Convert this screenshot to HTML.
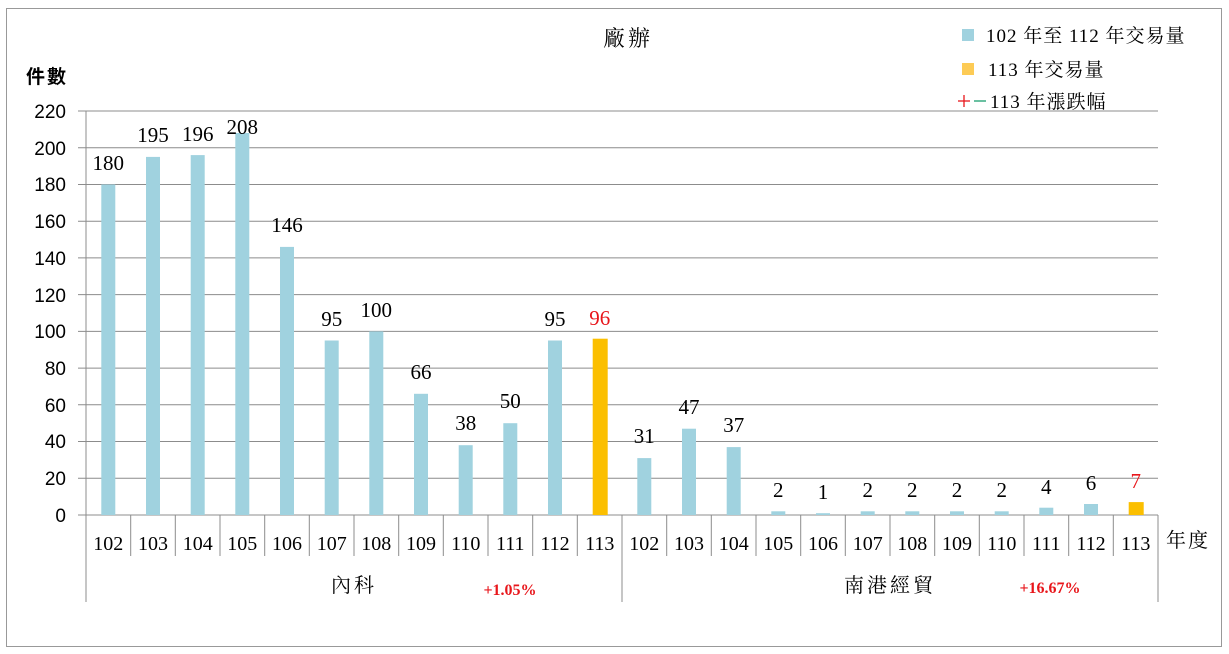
<!DOCTYPE html>
<html><head><meta charset="utf-8"><style>
body{margin:0;background:#fff}
svg{display:block}
.s{font-family:"Liberation Serif","Noto Serif CJK SC",serif}
.a{font-family:"Liberation Sans","Noto Sans CJK TC",sans-serif}
</style></head><body>
<svg width="1229" height="654" viewBox="0 0 1229 654" xmlns="http://www.w3.org/2000/svg">
<rect x="6.5" y="8.5" width="1215" height="638" fill="#fff" stroke="#999"/>
<g stroke="#8c8c8c" stroke-width="1">
<line x1="78" y1="111" x2="1158" y2="111"/>
<line x1="78" y1="147.7" x2="1158" y2="147.7"/>
<line x1="78" y1="184.5" x2="1158" y2="184.5"/>
<line x1="78" y1="221.2" x2="1158" y2="221.2"/>
<line x1="78" y1="257.9" x2="1158" y2="257.9"/>
<line x1="78" y1="294.6" x2="1158" y2="294.6"/>
<line x1="78" y1="331.4" x2="1158" y2="331.4"/>
<line x1="78" y1="368.1" x2="1158" y2="368.1"/>
<line x1="78" y1="404.8" x2="1158" y2="404.8"/>
<line x1="78" y1="441.5" x2="1158" y2="441.5"/>
<line x1="78" y1="478.3" x2="1158" y2="478.3"/>
<line x1="78" y1="515" x2="1158" y2="515"/>
<line x1="86" y1="111" x2="86" y2="602"/>
<line x1="622" y1="515" x2="622" y2="602"/>
<line x1="1158" y1="515" x2="1158" y2="602"/>
<line x1="130.7" y1="515" x2="130.7" y2="556"/><line x1="175.3" y1="515" x2="175.3" y2="556"/><line x1="220" y1="515" x2="220" y2="556"/><line x1="264.7" y1="515" x2="264.7" y2="556"/><line x1="309.3" y1="515" x2="309.3" y2="556"/><line x1="354" y1="515" x2="354" y2="556"/><line x1="398.7" y1="515" x2="398.7" y2="556"/><line x1="443.3" y1="515" x2="443.3" y2="556"/><line x1="488" y1="515" x2="488" y2="556"/><line x1="532.7" y1="515" x2="532.7" y2="556"/><line x1="577.3" y1="515" x2="577.3" y2="556"/>
<line x1="666.7" y1="515" x2="666.7" y2="556"/><line x1="711.3" y1="515" x2="711.3" y2="556"/><line x1="756" y1="515" x2="756" y2="556"/><line x1="800.7" y1="515" x2="800.7" y2="556"/><line x1="845.3" y1="515" x2="845.3" y2="556"/><line x1="890" y1="515" x2="890" y2="556"/><line x1="934.7" y1="515" x2="934.7" y2="556"/><line x1="979.3" y1="515" x2="979.3" y2="556"/><line x1="1024" y1="515" x2="1024" y2="556"/><line x1="1068.7" y1="515" x2="1068.7" y2="556"/><line x1="1113.3" y1="515" x2="1113.3" y2="556"/>
</g>
<g fill="#a0d2df">
<rect x="101.3" y="184.5" width="14" height="330.5"/>
<rect x="146" y="156.9" width="14" height="358.1"/>
<rect x="190.7" y="155.1" width="14" height="359.9"/>
<rect x="235.3" y="133" width="14" height="382"/>
<rect x="280" y="246.9" width="14" height="268.1"/>
<rect x="324.7" y="340.5" width="14" height="174.5"/>
<rect x="369.3" y="331.4" width="14" height="183.6"/>
<rect x="414" y="393.8" width="14" height="121.2"/>
<rect x="458.7" y="445.2" width="14" height="69.8"/>
<rect x="503.3" y="423.2" width="14" height="91.8"/>
<rect x="548" y="340.5" width="14" height="174.5"/>
<rect x="637.3" y="458.1" width="14" height="56.9"/>
<rect x="682" y="428.7" width="14" height="86.3"/>
<rect x="726.7" y="447.1" width="14" height="67.9"/>
<rect x="771.3" y="511.3" width="14" height="3.7"/>
<rect x="816" y="513.2" width="14" height="1.8"/>
<rect x="860.7" y="511.3" width="14" height="3.7"/>
<rect x="905.3" y="511.3" width="14" height="3.7"/>
<rect x="950" y="511.3" width="14" height="3.7"/>
<rect x="994.7" y="511.3" width="14" height="3.7"/>
<rect x="1039.3" y="507.7" width="14" height="7.3"/>
<rect x="1084" y="504" width="14" height="11"/>
</g>
<g fill="#fbbf00">
<rect x="592.7" y="338.7" width="15" height="176.3"/>
<rect x="1128.7" y="502.1" width="15" height="12.9"/>
</g>
<g class="s" font-size="21" text-anchor="middle" fill="#000">
<text x="108.3" y="170">180</text><text x="153" y="142">195</text><text x="197.7" y="141">196</text><text x="242.3" y="134">208</text><text x="287" y="232">146</text><text x="331.7" y="326">95</text><text x="376.3" y="317">100</text><text x="421" y="379">66</text><text x="465.7" y="430">38</text><text x="510.3" y="408">50</text><text x="555" y="326">95</text><text x="599.7" y="325" fill="#e8161b">96</text>
<text x="644.3" y="443">31</text><text x="689" y="414">47</text><text x="733.7" y="432">37</text><text x="778.3" y="497">2</text><text x="823" y="499">1</text><text x="867.7" y="497">2</text><text x="912.3" y="497">2</text><text x="957" y="497">2</text><text x="1001.7" y="497">2</text><text x="1046.3" y="494">4</text><text x="1091" y="490">6</text><text x="1135.7" y="488" fill="#e8161b">7</text>
</g>
<g class="s" font-size="20" text-anchor="middle" fill="#000">
<text x="108.3" y="550">102</text><text x="153" y="550">103</text><text x="197.7" y="550">104</text><text x="242.3" y="550">105</text><text x="287" y="550">106</text><text x="331.7" y="550">107</text><text x="376.3" y="550">108</text><text x="421" y="550">109</text><text x="465.7" y="550">110</text><text x="510.3" y="550">111</text><text x="555" y="550">112</text><text x="599.7" y="550">113</text>
<text x="644.3" y="550">102</text><text x="689" y="550">103</text><text x="733.7" y="550">104</text><text x="778.3" y="550">105</text><text x="823" y="550">106</text><text x="867.7" y="550">107</text><text x="912.3" y="550">108</text><text x="957" y="550">109</text><text x="1001.7" y="550">110</text><text x="1046.3" y="550">111</text><text x="1091" y="550">112</text><text x="1135.7" y="550">113</text>
<text x="1188" y="547" letter-spacing="2">年度</text>
<text x="354" y="592" letter-spacing="3">內科</text>
<text x="890" y="592" letter-spacing="3">南港經貿</text>
<text x="628" y="46" font-size="22" letter-spacing="3">廠辦</text>
</g>
<g class="s" font-size="16" font-weight="bold" fill="#e8161b" text-anchor="middle">
<text x="510" y="595">+1.05%</text>
<text x="1050" y="593">+16.67%</text>
</g>
<g class="a" font-size="19" text-anchor="end" fill="#000">
<text x="66" y="118">220</text><text x="66" y="155">200</text><text x="66" y="191">180</text><text x="66" y="228">160</text><text x="66" y="265">140</text><text x="66" y="302">120</text><text x="66" y="338">100</text><text x="66" y="375">80</text><text x="66" y="412">60</text><text x="66" y="448">40</text><text x="66" y="485">20</text><text x="66" y="522">0</text>
</g>
<text class="a" x="26" y="83" font-size="19" font-weight="bold" letter-spacing="2">件數</text>
<rect x="962" y="29" width="12" height="12" fill="#a0d2df"/>
<rect x="962" y="63" width="12" height="12" fill="#fdcb55"/>
<text class="s" x="986" y="42" font-size="19" letter-spacing="1" fill="#000">102 年至 112 年交易量</text>
<text class="s" x="988" y="76" font-size="19" letter-spacing="1" fill="#000">113 年交易量</text>
<line x1="958" y1="101" x2="970" y2="101" stroke="#e8161b" stroke-width="1.3"/>
<line x1="964" y1="95" x2="964" y2="107" stroke="#e8161b" stroke-width="1.3"/>
<line x1="974" y1="101" x2="986" y2="101" stroke="#1a9e6e" stroke-width="1.3"/>
<text class="s" x="990" y="108" font-size="19" letter-spacing="1" fill="#000">113 年漲跌幅</text>
</svg>
</body></html>
